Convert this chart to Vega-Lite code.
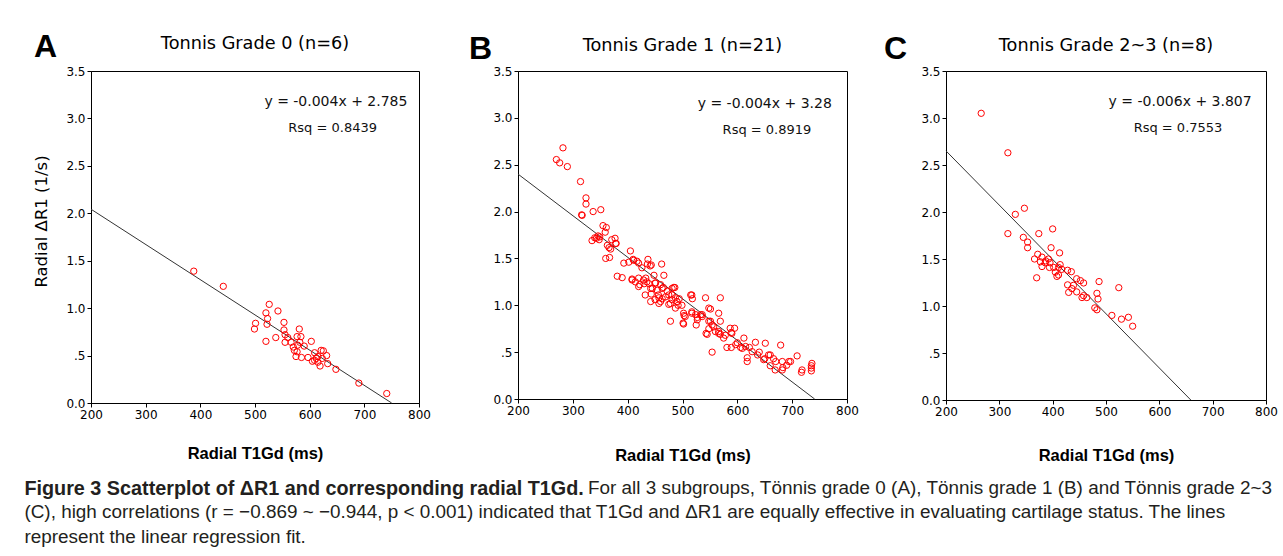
{
"$schema":"https://vega.github.io/schema/vega-lite/v6.json",
"background":"white",
"autosize":{"type":"pad"},
"padding":{"left":24,"top":30,"right":0,"bottom":0},
"bounds":"flush",
"spacing":99,
"title":{
 "text":"Figure 3 Scatterplot of ΔR1 and corresponding radial T1Gd.",
 "subtitle":["\u200b\u2003\u2003\u2003\u2003\u2003\u2003\u2003\u2003\u2003\u2003\u2003\u2003\u2003\u2003\u2003\u2003\u2003\u2003\u2003\u2003\u2003\u2003\u2003\u2003\u2003\u2003\u2003\u2003\u2003\u00a0\u00a0\u00a0For all 3 subgroups, Tönnis grade 0 (A), Tönnis grade 1 (B) and Tönnis grade 2~3","(C), high correlations (r = −0.869 ~ −0.944, p < 0.001) indicated that T1Gd and ΔR1 are equally effective in evaluating cartilage status. The lines","represent the linear regression fit."],
 "orient":"bottom","anchor":"start","frame":"bounds",
 "font":"Liberation Sans","fontSize":19.8,"fontWeight":"bold","color":"#231f20",
 "subtitleFont":"Liberation Sans","subtitleFontSize":18.9,"subtitleColor":"#231f20","subtitleLineHeight":24.5,
 "subtitlePadding":-20,"offset":15,"dx":-9
},
"datasets":{
 "ann":[
  {"panel":"A","letter":"A","eq":"y = -0.004x + 2.785","rsq":"Rsq = 0.8439"},
  {"panel":"B","letter":"B","eq":"y = -0.004x + 3.28","rsq":"Rsq = 0.8919"},
  {"panel":"C","letter":"C","eq":"y = -0.006x + 3.807","rsq":"Rsq = 0.7553"}
 ],
 "fa":[{"t1":200,"dr1":2.043},{"t1":750,"dr1":0}],
 "fb":[{"t1":200,"dr1":2.40},{"t1":741,"dr1":0}],
 "fc":[{"t1":200,"dr1":2.65},{"t1":659,"dr1":0}],
 "a":[
  {"t1":388,"dr1":1.39},{"t1":442,"dr1":1.23},{"t1":526,"dr1":1.04},{"t1":520,"dr1":0.95},{"t1":542,"dr1":0.97},
  {"t1":523,"dr1":0.89},{"t1":501,"dr1":0.84},{"t1":499,"dr1":0.78},{"t1":522,"dr1":0.83},{"t1":553,"dr1":0.85},
  {"t1":581,"dr1":0.78},{"t1":520,"dr1":0.65},{"t1":538,"dr1":0.69},{"t1":553,"dr1":0.77},{"t1":555,"dr1":0.72},
  {"t1":555,"dr1":0.64},{"t1":566,"dr1":0.64},{"t1":577,"dr1":0.70},{"t1":584,"dr1":0.70},{"t1":582,"dr1":0.64},
  {"t1":603,"dr1":0.65},{"t1":570,"dr1":0.59},{"t1":572,"dr1":0.555},{"t1":577,"dr1":0.54},{"t1":575,"dr1":0.49},
  {"t1":585,"dr1":0.48},{"t1":597,"dr1":0.48},{"t1":609,"dr1":0.53},{"t1":621,"dr1":0.555},{"t1":631,"dr1":0.50},
  {"t1":615,"dr1":0.49},{"t1":609,"dr1":0.45},{"t1":615,"dr1":0.43},{"t1":619,"dr1":0.39},{"t1":633,"dr1":0.415},
  {"t1":623,"dr1":0.47},{"t1":648,"dr1":0.355},{"t1":690,"dr1":0.21},{"t1":741,"dr1":0.10},{"t1":612,"dr1":0.47},
  {"t1":560,"dr1":0.69},{"t1":578,"dr1":0.61},{"t1":605,"dr1":0.44},{"t1":625,"dr1":0.55},{"t1":590,"dr1":0.60}
 ],
 "b":[
  {"t1":282,"dr1":2.68},{"t1":270,"dr1":2.555},{"t1":276,"dr1":2.52},{"t1":290,"dr1":2.48},{"t1":314,"dr1":2.32},
  {"t1":324,"dr1":2.146},{"t1":324,"dr1":2.08},{"t1":316,"dr1":1.965},{"t1":317,"dr1":1.96},{"t1":337,"dr1":2.00},
  {"t1":351,"dr1":2.02},{"t1":355,"dr1":1.85},{"t1":361,"dr1":1.83},{"t1":359,"dr1":1.78},{"t1":340,"dr1":1.72},
  {"t1":346,"dr1":1.74},{"t1":377,"dr1":1.715},{"t1":379,"dr1":1.66},{"t1":363,"dr1":1.64},{"t1":366,"dr1":1.615},
  {"t1":360,"dr1":1.50},{"t1":367,"dr1":1.51},{"t1":393,"dr1":1.45},{"t1":402,"dr1":1.46},{"t1":405,"dr1":1.58},
  {"t1":411,"dr1":1.48},{"t1":417,"dr1":1.47},{"t1":437,"dr1":1.49},{"t1":443,"dr1":1.43},{"t1":462,"dr1":1.44},
  {"t1":426,"dr1":1.40},{"t1":381,"dr1":1.31},{"t1":390,"dr1":1.295},{"t1":408,"dr1":1.27},{"t1":420,"dr1":1.29},
  {"t1":422,"dr1":1.22},{"t1":429,"dr1":1.27},{"t1":435,"dr1":1.25},{"t1":442,"dr1":1.18},{"t1":450,"dr1":1.235},
  {"t1":466,"dr1":1.32},{"t1":454,"dr1":1.16},{"t1":463,"dr1":1.18},{"t1":481,"dr1":1.18},{"t1":486,"dr1":1.19},
  {"t1":432,"dr1":1.11},{"t1":443,"dr1":1.12},{"t1":442,"dr1":1.04},{"t1":450,"dr1":1.06},{"t1":457,"dr1":1.08},
  {"t1":460,"dr1":1.04},{"t1":463,"dr1":1.07},{"t1":469,"dr1":1.09},{"t1":475,"dr1":1.11},{"t1":478,"dr1":1.02},
  {"t1":481,"dr1":1.06},{"t1":487,"dr1":1.08},{"t1":490,"dr1":1.04},{"t1":487,"dr1":0.97},{"t1":499,"dr1":1.00},
  {"t1":517,"dr1":1.11},{"t1":518,"dr1":1.07},{"t1":502,"dr1":0.915},{"t1":505,"dr1":0.88},{"t1":502,"dr1":0.80},
  {"t1":478,"dr1":0.83},{"t1":517,"dr1":0.915},{"t1":524,"dr1":0.90},{"t1":527,"dr1":0.845},{"t1":525,"dr1":0.79},
  {"t1":542,"dr1":1.08},{"t1":548,"dr1":0.97},{"t1":551,"dr1":0.96},{"t1":569,"dr1":1.08},{"t1":566,"dr1":0.915},
  {"t1":569,"dr1":0.83},{"t1":536,"dr1":0.90},{"t1":548,"dr1":0.83},{"t1":554,"dr1":0.79},{"t1":548,"dr1":0.75},
  {"t1":545,"dr1":0.69},{"t1":557,"dr1":0.77},{"t1":566,"dr1":0.72},{"t1":569,"dr1":0.69},{"t1":578,"dr1":0.68},
  {"t1":587,"dr1":0.755},{"t1":595,"dr1":0.755},{"t1":590,"dr1":0.70},{"t1":554,"dr1":0.50},{"t1":581,"dr1":0.55},
  {"t1":589,"dr1":0.55},{"t1":597,"dr1":0.58},{"t1":606,"dr1":0.55},{"t1":612,"dr1":0.65},{"t1":615,"dr1":0.56},
  {"t1":618,"dr1":0.44},{"t1":618,"dr1":0.40},{"t1":633,"dr1":0.605},{"t1":627,"dr1":0.505},{"t1":637,"dr1":0.47},
  {"t1":651,"dr1":0.595},{"t1":648,"dr1":0.42},{"t1":660,"dr1":0.47},{"t1":666,"dr1":0.43},{"t1":660,"dr1":0.355},
  {"t1":669,"dr1":0.31},{"t1":679,"dr1":0.575},{"t1":682,"dr1":0.40},{"t1":683,"dr1":0.335},{"t1":694,"dr1":0.40},
  {"t1":709,"dr1":0.46},{"t1":717,"dr1":0.285},{"t1":735,"dr1":0.355},{"t1":735,"dr1":0.33},{"t1":735,"dr1":0.30},
  {"t1":736,"dr1":0.38},{"t1":682,"dr1":0.31},{"t1":441,"dr1":1.42},{"t1":448,"dr1":1.32},{"t1":433,"dr1":1.29},
  {"t1":439,"dr1":1.23},{"t1":451,"dr1":1.24},{"t1":430,"dr1":1.23},{"t1":445,"dr1":1.18},{"t1":460,"dr1":1.22},
  {"t1":484,"dr1":1.19},{"t1":472,"dr1":1.15},{"t1":481,"dr1":1.11},{"t1":456,"dr1":1.11},{"t1":457,"dr1":1.02},
  {"t1":475,"dr1":1.01},{"t1":515,"dr1":1.11},{"t1":517,"dr1":0.93},{"t1":533,"dr1":0.90},{"t1":503,"dr1":0.89},
  {"t1":501,"dr1":0.81},{"t1":536,"dr1":0.88},{"t1":551,"dr1":0.83},{"t1":543,"dr1":0.70},{"t1":566,"dr1":0.70},
  {"t1":589,"dr1":0.71},{"t1":609,"dr1":0.54},{"t1":657,"dr1":0.47},{"t1":650,"dr1":0.43},{"t1":697,"dr1":0.40},
  {"t1":718,"dr1":0.31},{"t1":343,"dr1":1.715},{"t1":349,"dr1":1.73},{"t1":378,"dr1":1.66},{"t1":369,"dr1":1.60},
  {"t1":410,"dr1":1.49},{"t1":436,"dr1":1.44},{"t1":408,"dr1":1.28},{"t1":414,"dr1":1.25},{"t1":420,"dr1":1.20},
  {"t1":465,"dr1":1.19},{"t1":348,"dr1":1.70},{"t1":335,"dr1":1.69},{"t1":371,"dr1":1.70},{"t1":420,"dr1":1.45},
  {"t1":494,"dr1":1.07},{"t1":492,"dr1":1.00},{"t1":527,"dr1":0.87},{"t1":560,"dr1":0.72},{"t1":575,"dr1":0.65},
  {"t1":600,"dr1":0.60},{"t1":622,"dr1":0.55},{"t1":640,"dr1":0.50},{"t1":670,"dr1":0.40},{"t1":690,"dr1":0.36}
 ],
 "c":[
  {"t1":266,"dr1":3.05},{"t1":316,"dr1":2.63},{"t1":347,"dr1":2.04},{"t1":330,"dr1":1.975},{"t1":316,"dr1":1.77},
  {"t1":374,"dr1":1.77},{"t1":400,"dr1":1.82},{"t1":345,"dr1":1.73},{"t1":353,"dr1":1.68},{"t1":353,"dr1":1.62},
  {"t1":397,"dr1":1.62},{"t1":413,"dr1":1.565},{"t1":372,"dr1":1.55},{"t1":366,"dr1":1.50},{"t1":380,"dr1":1.52},
  {"t1":387,"dr1":1.48},{"t1":392,"dr1":1.50},{"t1":395,"dr1":1.46},{"t1":380,"dr1":1.42},{"t1":394,"dr1":1.41},
  {"t1":402,"dr1":1.41},{"t1":411,"dr1":1.41},{"t1":414,"dr1":1.44},{"t1":405,"dr1":1.36},{"t1":411,"dr1":1.33},
  {"t1":408,"dr1":1.315},{"t1":370,"dr1":1.30},{"t1":428,"dr1":1.38},{"t1":435,"dr1":1.365},{"t1":445,"dr1":1.29},
  {"t1":452,"dr1":1.27},{"t1":458,"dr1":1.245},{"t1":428,"dr1":1.225},{"t1":439,"dr1":1.22},{"t1":436,"dr1":1.185},
  {"t1":430,"dr1":1.145},{"t1":445,"dr1":1.15},{"t1":455,"dr1":1.09},{"t1":458,"dr1":1.11},{"t1":464,"dr1":1.09},
  {"t1":487,"dr1":1.26},{"t1":483,"dr1":1.135},{"t1":485,"dr1":1.075},{"t1":479,"dr1":0.98},{"t1":483,"dr1":0.96},
  {"t1":511,"dr1":0.90},{"t1":524,"dr1":1.195},{"t1":529,"dr1":0.86},{"t1":542,"dr1":0.88},{"t1":550,"dr1":0.785},
  {"t1":386,"dr1":1.46},{"t1":417,"dr1":1.39},{"t1":377,"dr1":1.47}
 ]
},
"hconcat":[
 {
  "width":328,"height":332,
  "title":{"text":"Tonnis Grade 0 (n=6)","frame":"group","offset":-22},
  "layer":[
   {"data":{"name":"fa"},"mark":{"type":"line","color":"#333333","strokeWidth":1},
    "encoding":{
     "x":{"field":"t1","type":"quantitative","scale":{"domain":[200,800],"nice":false,"zero":false},
          "axis":{"values":[200,300,400,500,600,700,800],"title":"Radial T1Gd (ms)","titlePadding":25}},
     "y":{"field":"dr1","type":"quantitative","scale":{"domain":[0,3.5],"nice":false},
          "axis":{"values":[0,0.5,1,1.5,2,2.5,3,3.5],"labelExpr":"datum.value == 0.5 ? '.5' : format(datum.value, '.1f')","title":"Radial ΔR1 (1/s)","titlePadding":16,"titleY":150}}
    }},
   {"data":{"name":"a"},"mark":{"type":"point","shape":"circle","filled":false,"color":"#ff0000","size":40,"strokeWidth":1,"opacity":1},
    "encoding":{"x":{"field":"t1","type":"quantitative"},"y":{"field":"dr1","type":"quantitative"}}},
   {"data":{"name":"ann"},"transform":[{"filter":"datum.panel == 'A'"}],
    "mark":{"type":"text","font":"Liberation Sans","fontSize":32,"fontWeight":"bold","align":"left","baseline":"alphabetic","color":"#000"},
    "encoding":{"x":{"datum":95.7},"y":{"datum":3.648},"text":{"field":"letter"}}},
   {"data":{"name":"ann"},"transform":[{"filter":"datum.panel == 'A'"}],
    "mark":{"type":"text","font":"DejaVu Sans","fontSize":14,"align":"center","baseline":"middle","color":"#111"},
    "encoding":{"x":{"datum":648},"y":{"datum":3.176},"text":{"field":"eq"}}},
   {"data":{"name":"ann"},"transform":[{"filter":"datum.panel == 'A'"}],
    "mark":{"type":"text","font":"DejaVu Sans","fontSize":13,"align":"center","baseline":"middle","color":"#111"},
    "encoding":{"x":{"datum":642},"y":{"datum":2.899},"text":{"field":"rsq"}}}
  ]
 },
 {
  "width":329,"height":328,
  "title":{"text":"Tonnis Grade 1 (n=21)","frame":"group","offset":-22},
  "layer":[
   {"data":{"name":"fb"},"mark":{"type":"line","color":"#333333","strokeWidth":1},
    "encoding":{
     "x":{"field":"t1","type":"quantitative","scale":{"domain":[200,800],"nice":false,"zero":false},
          "axis":{"values":[200,300,400,500,600,700,800],"title":"Radial T1Gd (ms)","titlePadding":31}},
     "y":{"field":"dr1","type":"quantitative","scale":{"domain":[0,3.5],"nice":false},
          "axis":{"values":[0,0.5,1,1.5,2,2.5,3,3.5],"labelExpr":"datum.value == 0.5 ? '.5' : format(datum.value, '.1f')","title":null}}
    }},
   {"data":{"name":"b"},"mark":{"type":"point","shape":"circle","filled":false,"color":"#ff0000","size":40,"strokeWidth":1,"opacity":1},
    "encoding":{"x":{"field":"t1","type":"quantitative"},"y":{"field":"dr1","type":"quantitative"}}},
   {"data":{"name":"ann"},"transform":[{"filter":"datum.panel == 'B'"}],
    "mark":{"type":"text","font":"Liberation Sans","fontSize":32,"fontWeight":"bold","align":"left","baseline":"alphabetic","color":"#000"},
    "encoding":{"x":{"datum":110.6},"y":{"datum":3.628},"text":{"field":"letter"}}},
   {"data":{"name":"ann"},"transform":[{"filter":"datum.panel == 'B'"}],
    "mark":{"type":"text","font":"DejaVu Sans","fontSize":14,"align":"center","baseline":"middle","color":"#111"},
    "encoding":{"x":{"datum":650},"y":{"datum":3.15},"text":{"field":"eq"}}},
   {"data":{"name":"ann"},"transform":[{"filter":"datum.panel == 'B'"}],
    "mark":{"type":"text","font":"DejaVu Sans","fontSize":13,"align":"center","baseline":"middle","color":"#111"},
    "encoding":{"x":{"datum":654},"y":{"datum":2.87},"text":{"field":"rsq"}}}
  ]
 },
 {
  "width":320,"height":329,
  "title":{"text":"Tonnis Grade 2~3 (n=8)","frame":"group","offset":-22},
  "layer":[
   {"data":{"name":"fc"},"mark":{"type":"line","color":"#333333","strokeWidth":1},
    "encoding":{
     "x":{"field":"t1","type":"quantitative","scale":{"domain":[200,800],"nice":false,"zero":false},
          "axis":{"values":[200,300,400,500,600,700,800],"title":"Radial T1Gd (ms)","titlePadding":30}},
     "y":{"field":"dr1","type":"quantitative","scale":{"domain":[0,3.5],"nice":false},
          "axis":{"values":[0,0.5,1,1.5,2,2.5,3,3.5],"labelExpr":"datum.value == 0.5 ? '.5' : format(datum.value, '.1f')","title":null}}
    }},
   {"data":{"name":"c"},"mark":{"type":"point","shape":"circle","filled":false,"color":"#ff0000","size":40,"strokeWidth":1,"opacity":1},
    "encoding":{"x":{"field":"t1","type":"quantitative"},"y":{"field":"dr1","type":"quantitative"}}},
   {"data":{"name":"ann"},"transform":[{"filter":"datum.panel == 'C'"}],
    "mark":{"type":"text","font":"Liberation Sans","fontSize":32,"fontWeight":"bold","align":"left","baseline":"alphabetic","color":"#000"},
    "encoding":{"x":{"datum":83.7},"y":{"datum":3.628},"text":{"field":"letter"}}},
   {"data":{"name":"ann"},"transform":[{"filter":"datum.panel == 'C'"}],
    "mark":{"type":"text","font":"DejaVu Sans","fontSize":14,"align":"center","baseline":"middle","color":"#111"},
    "encoding":{"x":{"datum":639},"y":{"datum":3.17},"text":{"field":"eq"}}},
   {"data":{"name":"ann"},"transform":[{"filter":"datum.panel == 'C'"}],
    "mark":{"type":"text","font":"DejaVu Sans","fontSize":13,"align":"center","baseline":"middle","color":"#111"},
    "encoding":{"x":{"datum":635},"y":{"datum":2.89},"text":{"field":"rsq"}}}
  ]
 }
],
"config":{
 "view":{"stroke":"#000","strokeWidth":1},
 "axis":{"grid":false,"domainColor":"#000","tickColor":"#000","tickSize":4,"labelColor":"#000","labelFont":"DejaVu Sans","labelFontSize":12,"labelPadding":2,"labelFlush":false,"titleColor":"#000"},
 "axisX":{"titleFont":"Liberation Sans","titleFontSize":16.5,"titleFontWeight":"bold"},
 "axisY":{"titleFont":"DejaVu Sans","titleFontSize":16.5,"titleFontWeight":"normal"},
 "title":{"font":"DejaVu Sans","fontSize":17.7,"fontWeight":"normal","color":"#000"}
}
}
